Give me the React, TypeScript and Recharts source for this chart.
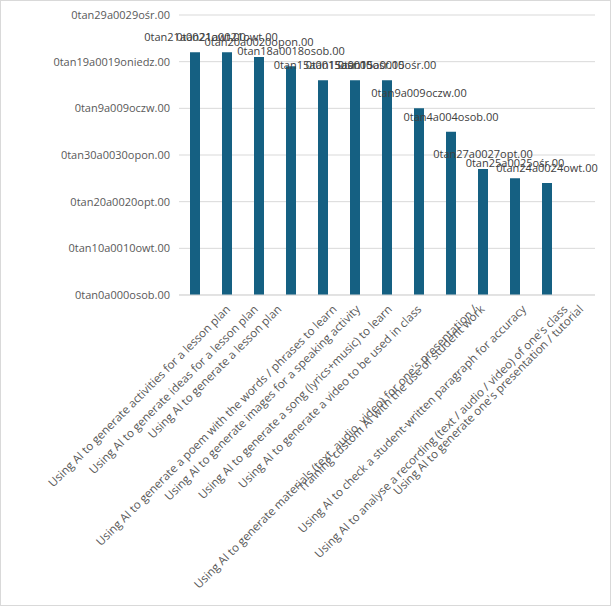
import React from 'react';
import { BarChart, Bar, XAxis, YAxis, CartesianGrid, LabelList } from 'recharts';

const categories = [
  'Using AI to generate activities for a lesson plan',
  'Using AI to generate ideas for a lesson plan',
  'Using AI to generate a lesson plan',
  'Using AI to generate a poem with the words / phrases to learn',
  'Using AI to generate images for a speaking activity',
  'Using AI to generate a song (lyrics+music) to learn',
  'Using AI to generate a video to be used in class',
  "Using AI to generate materials (text, audio, video) for one's presentation /",
  'Training custom AI with the use of student work',
  'Using AI to check a student-written paragraph for accuracy',
  "Using AI to analyse a recording (text / audio / video) of one's class",
  "Using AI to generate one's presentation / tutorial",
];

const values = [52, 52, 51, 49, 46, 46, 46, 40, 35, 27, 25, 24];

const barLabels = [
  '0tan21a0021owt.00',
  '0tan21a0021owt.00',
  '0tan20a0020opon.00',
  '0tan18a0018osob.00',
  '0tan15a0015ośr.00',
  '0tan15a0015ośr.00',
  '0tan15a0015ośr.00',
  '0tan9a009oczw.00',
  '0tan4a004osob.00',
  '0tan27a0027opt.00',
  '0tan25a0025ośr.00',
  '0tan24a0024owt.00',
];

const yTicks = [0, 10, 20, 30, 40, 50, 60];
const yTickLabels = [
  '0tan0a000osob.00',
  '0tan10a0010owt.00',
  '0tan20a0020opt.00',
  '0tan30a0030opon.00',
  '0tan9a009oczw.00',
  '0tan19a0019oniedz.00',
  '0tan29a0029ośr.00',
];

const data = categories.map((name, i) => ({ name, value: values[i], label: barLabels[i] }));

const FONT = '"Open Sans", "Noto Sans", sans-serif';

const XTick = (props: any) => {
  const { x, y, payload } = props;
  const label = String(payload.value);
  const n = label.length;
  const ax = x - 6 + 0.86 * n;
  const ay = y + 15;
  return (
    <text
      x={ax}
      y={ay}
      textAnchor="end"
      transform={`rotate(-45, ${ax}, ${ay})`}
      fill="#595959"
      fontSize={11.6}
      fontFamily={FONT}
    >
      {label}
    </text>
  );
};

const BarLabel = (props: any) => {
  const { x, y, width, value } = props;
  return (
    <text
      x={x + width / 2}
      y={y - 11}
      textAnchor="middle"
      fill="#404040"
      fontSize={11}
      fontFamily={FONT}
    >
      {value}
    </text>
  );
};

export default function App() {
  return (
    <div style={{ position: 'absolute', left: 0, top: 0, width: 611, height: 607, background: '#fff' }}>
      <BarChart
        width={611}
        height={607}
        data={data}
        margin={{ top: 15, right: 16, bottom: 0, left: 0 }}
        barSize={10}
      >
        <CartesianGrid horizontal vertical={false} stroke="#d9d9d9" />
        <XAxis
          dataKey="name"
          interval={0}
          height={312}
          tick={<XTick />}
          tickLine={false}
          tickSize={0}
          tickMargin={0}
          axisLine={{ stroke: '#d9d9d9' }}
          padding={{ left: 0, right: 32 }}
        />
        <YAxis
          domain={[0, 60]}
          ticks={yTicks}
          width={179}
          axisLine={false}
          tickLine={false}
          tickSize={0}
          tickMargin={9}
          tick={{ fill: '#595959', fontSize: 11, fontFamily: FONT }}
          tickFormatter={(v: number) => yTickLabels[yTicks.indexOf(v)]}
        />
        <Bar dataKey="value" fill="#156082" isAnimationActive={false}>
          <LabelList dataKey="label" content={<BarLabel />} />
        </Bar>
      </BarChart>
      <div
        style={{
          position: 'absolute',
          left: 0,
          top: 0,
          width: 611,
          height: 606,
          boxSizing: 'border-box',
          border: '1px solid #d9d9d9',
          pointerEvents: 'none',
        }}
      />
    </div>
  );
}
